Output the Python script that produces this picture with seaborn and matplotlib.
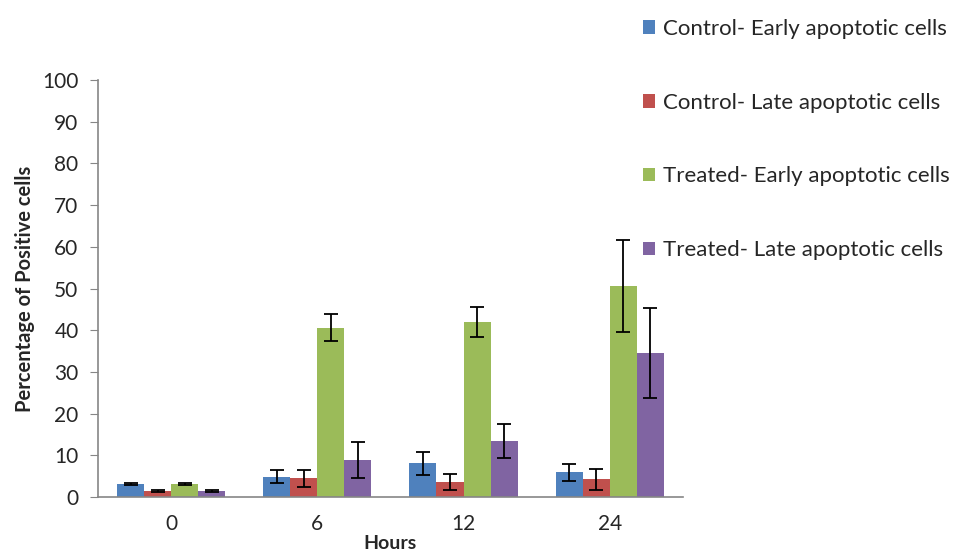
import matplotlib
matplotlib.use("Agg")
import matplotlib.pyplot as plt
import seaborn as sns
import pandas as pd
import numpy as np

hours = ["0", "6", "12", "24"]
series = ["Control- Early apoptotic cells", "Control- Late apoptotic cells",
          "Treated- Early apoptotic cells", "Treated- Late apoptotic cells"]
ctrl_early = [3.1, 4.9, 8.1, 5.9]
ctrl_late = [1.5, 4.5, 3.6, 4.2]
trt_early = [3.1, 40.6, 42.0, 50.6]
trt_late = [1.5, 8.9, 13.4, 34.5]
ctrl_early_err = [0.15, 1.6, 2.8, 2.0]
ctrl_late_err = [0.3, 2.0, 1.9, 2.5]
trt_early_err = [0.15, 3.3, 3.6, 11.0]
trt_late_err = [0.3, 4.4, 4.0, 10.8]
colors = ["#4F81BD", "#C0504D", "#9BBB59", "#8064A2"]

vals = [ctrl_early, ctrl_late, trt_early, trt_late]
errs = [ctrl_early_err, ctrl_late_err, trt_early_err, trt_late_err]
rows = []
for s, v, e in zip(series, vals, errs):
    for h, vv, ee in zip(hours, v, e):
        rows.append({"Hours": h, "Series": s, "Value": vv, "Err": ee})
df = pd.DataFrame(rows)

sns.set_style("white")
plt.rcParams["font.family"] = ["Lato", "DejaVu Sans"]

fig = plt.figure(figsize=(9.55, 5.58), dpi=100)
ax = fig.add_axes([0.1026, 0.1093, 0.6124, 0.7473])
sns.barplot(data=df, x="Hours", y="Value", hue="Series", order=hours,
            hue_order=series, palette=colors, errorbar=None, width=0.74,
            saturation=1, ax=ax, legend=False, linewidth=0)

# error bars at bar centers
for cont, s in zip(ax.containers, series):
    sub = df[df.Series == s].set_index("Hours").loc[hours]
    xs = [p.get_x() + p.get_width() / 2 for p in cont.patches]
    ys = [p.get_height() for p in cont.patches]
    ax.errorbar(xs, ys, yerr=sub["Err"].values, fmt="none", ecolor="black",
                elinewidth=1.3, capsize=5, capthick=1.3)

ax.set_ylim(0, 100)
ax.set_yticks(range(0, 101, 10))
ax.set_xlim(-0.5, 3.5)
ax.set_xlabel("Hours", fontsize=14, fontweight="bold", labelpad=1)
ax.set_ylabel("Percentage of Positive cells", fontsize=14.5, fontweight="bold", labelpad=5)
ax.tick_params(axis="y", labelsize=15, length=6, color="#868686", left=True,
               direction="out", pad=8)
ax.tick_params(axis="x", labelsize=15, length=0, pad=12)
for sp in ["top", "right"]:
    ax.spines[sp].set_visible(False)
for sp in ["left", "bottom"]:
    ax.spines[sp].set_color("#868686")
    ax.spines[sp].set_linewidth(1.2)

from matplotlib.patches import Patch
handles = [Patch(facecolor=c, edgecolor="none") for c in colors]
fig.legend(handles, series, loc="upper left", bbox_to_anchor=(0.664, 0.982),
           frameon=False, fontsize=16, labelspacing=2.42, handlelength=0.55,
           handleheight=0.55, handletextpad=0.35, borderaxespad=0)

fig.savefig("out.png", dpi=100)
